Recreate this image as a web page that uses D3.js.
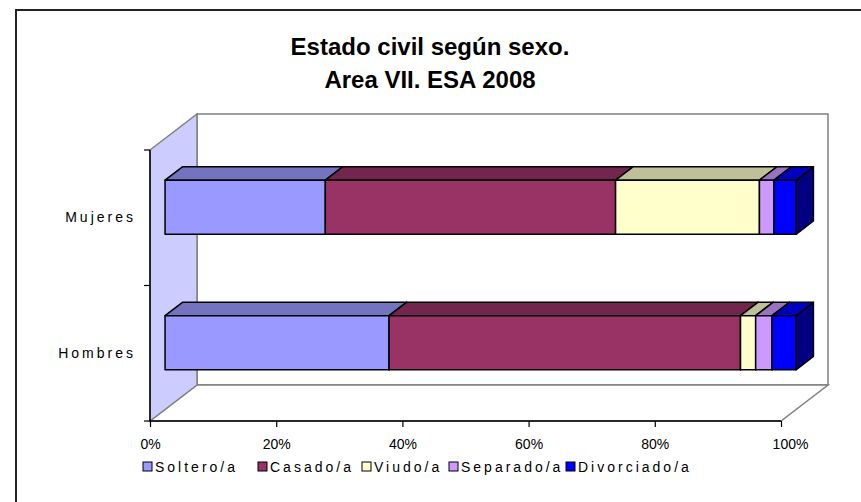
<!DOCTYPE html>
<html><head><meta charset="utf-8">
<script src="https://cdn.jsdelivr.net/npm/d3@7"></script>
<style>body{margin:0;background:#fff}svg{display:block}</style>
</head><body><svg id="c" width="861" height="502"></svg>
<script>
const categories = ["Hombres", "Mujeres"];
const seriesNames = ["Soltero/a", "Casado/a", "Viudo/a", "Separado/a", "Divorciado/a"];
const solteroValues = [35.5, 25.4];
const casadoValues = [55.7, 46.0];
const viudoValues = [2.4, 22.8];
const separadoValues = [2.6, 2.3];
const divorciadoValues = [3.8, 3.5];
const tickLabels = ["0%", "20%", "40%", "60%", "80%", "100%"];
const colors = ["#9999FF", "#993366", "#FFFFCC", "#CC99FF", "#0000FF"];

const seriesValues = [solteroValues, casadoValues, viudoValues, separadoValues, divorciadoValues];
const svg = d3.select("#c");
const font = "'Liberation Sans', Arial, sans-serif";

// outer frame
svg.append("rect").attr("x", 16).attr("y", 10).attr("width", 900).attr("height", 600)
  .attr("fill", "none").attr("stroke", "#222").attr("stroke-width", 2);

// title
svg.append("text").attr("x", 430).attr("y", 55).attr("text-anchor", "middle")
  .attr("font-family", font).attr("font-weight", "bold").attr("font-size", 24).text("Estado civil según sexo.");
svg.append("text").attr("x", 430).attr("y", 88).attr("text-anchor", "middle")
  .attr("font-family", font).attr("font-weight", "bold").attr("font-size", 24).text("Area VII. ESA 2008");

const x = d3.scaleLinear().domain([0, 100]).range([150, 781]);
const y = d3.scaleBand().domain(categories).range([421, 150]).padding(0);
const DX = 47, DY = -36;
const P = (v, yy, d) => [x(v) + d * DX, yy + d * DY];
const poly = pts => "M" + pts.map(p => p.join(",")).join("L") + "Z";

const y0 = 150, y1 = 421;
// back wall
svg.append("path").attr("d", poly([P(0, y0, 1), P(100, y0, 1), P(100, y1, 1), P(0, y1, 1)]))
  .attr("fill", "#fff").attr("stroke", "#808080").attr("stroke-width", 1.5);
// floor
svg.append("path").attr("d", poly([P(0, y1, 0), P(100, y1, 0), P(100, y1, 1), P(0, y1, 1)]))
  .attr("fill", "#fff").attr("stroke", "#808080").attr("stroke-width", 1.5);
// left wall
svg.append("path").attr("d", poly([P(0, y0, 0), P(0, y0, 1), P(0, y1, 1), P(0, y1, 0)]))
  .attr("fill", "#CCCCFF").attr("stroke", "#808080").attr("stroke-width", 1.5);

// bars
const dFront = 0.32, dBack = 0.69, barFrac = 0.4;
const shade = (c, k) => { const r = d3.rgb(c); return d3.rgb(r.r * k, r.g * k, r.b * k).formatHex(); };
categories.forEach((cat, ci) => {
  const cy = y(cat) + y.bandwidth() / 2 + 1;
  const h = y.bandwidth() * barFrac;
  const top = cy - h / 2, bot = cy + h / 2;
  let acc = 0;
  seriesValues.forEach((vals, si) => {
    const a = acc, b = acc + vals[ci];
    acc = b;
    const g = svg.append("g").attr("stroke", "#000").attr("stroke-width", 1.5).attr("stroke-linejoin", "round");
    g.append("path").attr("d", poly([P(b, top, dFront), P(b, top, dBack), P(b, bot, dBack), P(b, bot, dFront)]))
      .attr("fill", shade(colors[si], 0.5));
    g.append("path").attr("d", poly([P(a, top, dFront), P(a, top, dBack), P(b, top, dBack), P(b, top, dFront)]))
      .attr("fill", shade(colors[si], 0.75));
    g.append("path").attr("d", poly([P(a, top, dFront), P(b, top, dFront), P(b, bot, dFront), P(a, bot, dFront)]))
      .attr("fill", colors[si]);
  });
});

// axes
const xAxis = d3.axisBottom(x).tickValues([0, 20, 40, 60, 80, 100]).tickSize(6).tickPadding(12)
  .tickFormat((d, i) => tickLabels[i]);
const gx = svg.append("g").attr("transform", `translate(0,${y1})`).call(xAxis);
gx.select(".domain").attr("stroke", "#000").attr("stroke-width", 1.5).attr("d", `M${x(0)},0H${x(100)}`);
gx.selectAll(".tick line").attr("stroke", "#000").attr("stroke-width", 1.2);
gx.selectAll(".tick text").attr("font-family", font).attr("font-size", 14).attr("fill", "#000")
  .attr("dx", (d, i) => i === tickLabels.length - 1 ? 9 : 0);

const yAxis = d3.axisLeft(y).tickSize(0).tickPadding(14);
const gy = svg.append("g").attr("transform", `translate(${x(0)},0)`).call(yAxis);
gy.select(".domain").attr("stroke", "#000").attr("stroke-width", 1.5).attr("d", `M0,${y0}V${y1}`);
gy.selectAll(".tick text").attr("font-family", font).attr("font-size", 14).attr("fill", "#000")
  .attr("letter-spacing", 3);
[y0, y(categories[0]), y1].forEach(t => {
  gy.append("line").attr("x1", -6).attr("x2", 0).attr("y1", t).attr("y2", t).attr("stroke", "#000").attr("stroke-width", 1.2);
});

// legend
const legendX = [143, 258, 362, 449, 566];
const lg = svg.append("g");
seriesNames.forEach((n, i) => {
  lg.append("rect").attr("x", legendX[i]).attr("y", 462).attr("width", 9).attr("height", 9)
    .attr("fill", colors[i]).attr("stroke", "#000").attr("stroke-width", 1);
  lg.append("text").attr("x", legendX[i] + 12).attr("y", 472).attr("font-family", font).attr("font-size", 14)
    .attr("letter-spacing", 3).text(n);
});
</script></body></html>
